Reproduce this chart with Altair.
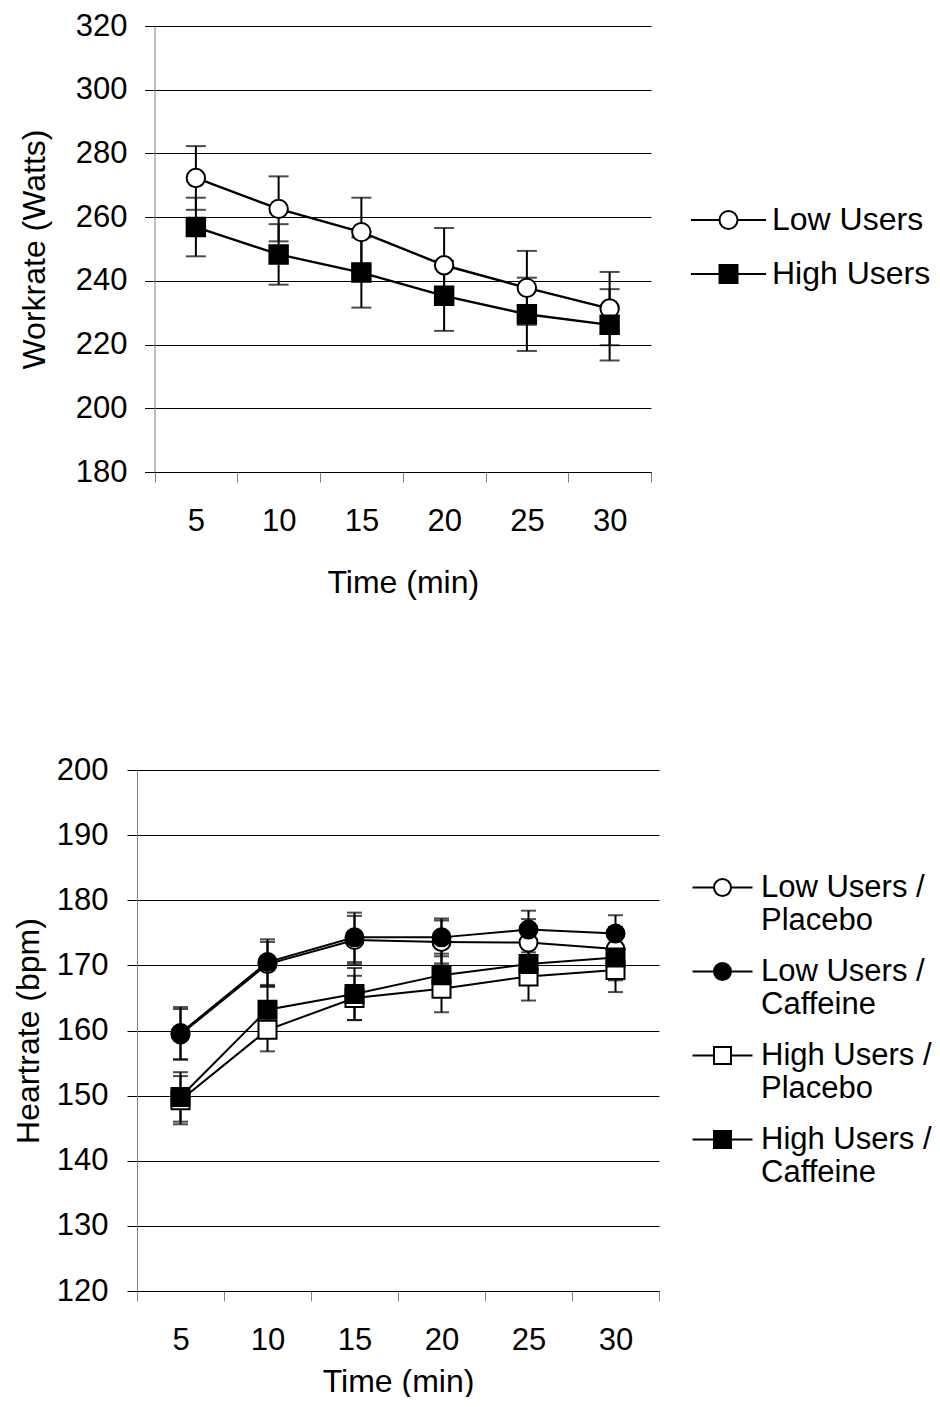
import altair as alt
import pandas as pd

FONT = "Liberation Sans"

# ---------------- data ----------------
times = [5, 10, 15, 20, 25, 30]

# Workrate (Watts)
wr_series = ["Low Users", "High Users"]
wr_low_mean = [272.3, 262.6, 255.3, 244.9, 237.8, 231.3]
wr_low_sd = [10.0, 10.2, 10.8, 11.7, 11.6, 11.5]
wr_high_mean = [256.9, 248.3, 242.6, 235.3, 229.5, 226.2]
wr_high_sd = [9.2, 9.5, 11.0, 11.0, 11.5, 11.2]
wr_ticks = [180, 200, 220, 240, 260, 280, 300, 320]

# Heartrate (bpm)
hr_series = ["Low Users / Placebo", "Low Users / Caffeine",
             "High Users / Placebo", "High Users / Caffeine"]
hr_low_pla_mean = [159.4, 170.2, 173.9, 173.6, 173.5, 172.5]
hr_low_pla_sd = [3.9, 3.4, 3.7, 3.3, 3.6, 3.4]
hr_low_caf_mean = [159.6, 170.5, 174.3, 174.3, 175.5, 174.9]
hr_low_caf_sd = [4.0, 3.5, 3.8, 2.9, 2.9, 2.8]
hr_high_pla_mean = [149.3, 160.1, 165.0, 166.4, 168.3, 169.3]
hr_high_pla_sd = [3.7, 3.3, 3.4, 3.6, 3.7, 3.4]
hr_high_caf_mean = [149.8, 163.2, 165.6, 168.5, 170.2, 171.2]
hr_high_caf_sd = [3.8, 3.5, 4.0, 3.3, 3.2, 3.5]
hr_ticks = [120, 130, 140, 150, 160, 170, 180, 190, 200]


def long_df(names, means, sds):
    rows = []
    for name, m, s in zip(names, means, sds):
        for t, mv, sv in zip(times, m, s):
            rows.append({"time": t, "series": name, "mean": mv, "sd": sv})
    return pd.DataFrame(rows)


wr_df = long_df(wr_series, [wr_low_mean, wr_high_mean], [wr_low_sd, wr_high_sd])
hr_df = long_df(hr_series,
                [hr_low_pla_mean, hr_low_caf_mean, hr_high_pla_mean, hr_high_caf_mean],
                [hr_low_pla_sd, hr_low_caf_sd, hr_high_pla_sd, hr_high_caf_sd])


def js_list(values):
    return "[" + ",".join("'%s'" % v for v in values) + "]"


def panel(df, names, fills, shapes, legend_paths, y_title, y_domain, y_ticks,
          width, height, x_range, y_offset, y_label_pad, y_title_pad,
          x_label_pad, x_title_pad, cap, msize, line_w, legend):
    x_enc = alt.X(
        "time:O", sort=times, title="Time (min)",
        scale=alt.Scale(type="band", paddingInner=0, paddingOuter=0, range=x_range),
        axis=alt.Axis(labelAngle=0, tickBand="extent", tickColor="#808080",
                      tickSize=10, domainColor="black", labelPadding=x_label_pad,
                      titlePadding=x_title_pad, grid=False),
    )
    y_scale = alt.Scale(domain=y_domain, zero=False, nice=False)
    y_axis = alt.Axis(values=y_ticks, grid=True, gridColor="black", gridWidth=1,
                      tickColor="black", tickSize=10, domainColor="#808080",
                      labelPadding=y_label_pad, titlePadding=y_title_pad,
                      offset=y_offset)

    def Y(field):
        return alt.Y(field, title=y_title, scale=y_scale, axis=y_axis)

    idx = "indexof(%s, datum.series)" % js_list(names)
    base = alt.Chart(df).transform_calculate(
        lo="datum.mean - datum.sd",
        hi="datum.mean + datum.sd",
        idx=idx,
        marker="%s[%s]" % (js_list(shapes), idx),
        fillc="%s[%s]" % (js_list(fills), idx),
    )

    rules = base.mark_rule(color="black", strokeWidth=2).encode(
        x=x_enc, y=Y("lo:Q"), y2="hi:Q"
    )
    caps = base.transform_fold(["lo", "hi"], as_=["end", "val"]).mark_tick(
        color="black", size=cap, thickness=2
    ).encode(x=x_enc, y=Y("val:Q"), detail="series:N")

    lines = base.mark_line(color="black", strokeWidth=line_w).encode(
        x=x_enc, y=Y("mean:Q"), detail=alt.Detail("series:N")
    )

    points = base.mark_point(filled=True, size=msize, stroke="black",
                             strokeWidth=2, opacity=1).encode(
        x=x_enc, y=Y("mean:Q"),
        fill=alt.Fill("fillc:N", scale=None),
        shape=alt.Shape("marker:N", scale=None),
        order=alt.Order("idx:Q"),
    )

    # legend-only layer (no rows drawn): symbols are line stub + marker
    leg = base.transform_filter("false").mark_point(
        filled=True, stroke="black", strokeWidth=2, opacity=1
    ).encode(
        x=x_enc, y=Y("mean:Q"),
        fill=alt.Fill("series:N", scale=alt.Scale(domain=names, range=fills), legend=legend),
        shape=alt.Shape("series:N", scale=alt.Scale(domain=names, range=legend_paths),
                        legend=legend),
    )

    return alt.layer(rules, caps, lines, points, leg).properties(width=width, height=height)


# legend symbol paths (line stub + marker), in symbol units
def stub(L):
    return "M-%s,0H-1M1,0H%s" % (L, L)

circle = "M1,0A1,1,0,1,1,-1,0A1,1,0,1,1,1,0Z"
square = "M-1,-1H1V1H-1Z"

top_legend = alt.Legend(
    title=None, orient="none", legendX=575.5, legendY=178, direction="vertical",
    padding=0, symbolSize=324, symbolStrokeWidth=2, symbolStrokeColor="black",
    symbolOpacity=1, labelFont=FONT, labelFontSize=32, labelColor="black",
    labelOffset=27.5, rowPadding=22, labelLimit=500,
)
top = panel(
    wr_df, wr_series, ["white", "black"], ["circle", "square"],
    [stub(4.17) + circle, stub(4.17) + square],
    "Workrate (Watts)", [180, 320], wr_ticks,
    width=514, height=446, x_range=[17.5, 514], y_offset=-17.5,
    y_label_pad=17.5, y_title_pad=23.3, x_label_pad=24.6, x_title_pad=31,
    cap=20, msize=340, line_w=2.4, legend=top_legend,
)

bottom_legend = alt.Legend(
    title=None, orient="none", legendX=570, legendY=102, direction="vertical",
    padding=0, symbolSize=289, symbolStrokeWidth=2, symbolStrokeColor="black",
    symbolOpacity=1, labelFont=FONT, labelFontSize=31, labelColor="black",
    labelOffset=23, rowPadding=19, labelLimit=500,
    labelExpr="[slice(datum.label, 0, indexof(datum.label, '/') + 1), "
              "slice(datum.label, indexof(datum.label, '/') + 2)]",
)
bottom = panel(
    hr_df, hr_series, ["white", "black", "white", "black"],
    ["circle", "circle", "square", "square"],
    [stub(3.53) + circle, stub(3.53) + circle, stub(3.53) + square, stub(3.53) + square],
    "Heartrate (bpm)", [120, 200], hr_ticks,
    width=522, height=521, x_range=[0, 522], y_offset=0,
    y_label_pad=19, y_title_pad=10.3, x_label_pad=24, x_title_pad=11,
    cap=15, msize=324, line_w=2, legend=bottom_legend,
)

chart = alt.vconcat(top, bottom, spacing=155).resolve_scale(
    shape="independent", fill="independent"
).resolve_legend(
    shape="independent", fill="independent"
).properties(
    padding={"left": 4, "top": 2, "right": 0, "bottom": 0}
).configure_view(stroke=None).configure_axis(
    labelFont=FONT, titleFont=FONT, labelFontSize=31, titleFontSize=32,
    labelColor="black", titleColor="black", titleFontWeight="normal",
    domainWidth=1, tickWidth=1,
).configure_legend(labelFont=FONT)

chart.save("out.html", embed_options={"renderer": "svg", "actions": False})
